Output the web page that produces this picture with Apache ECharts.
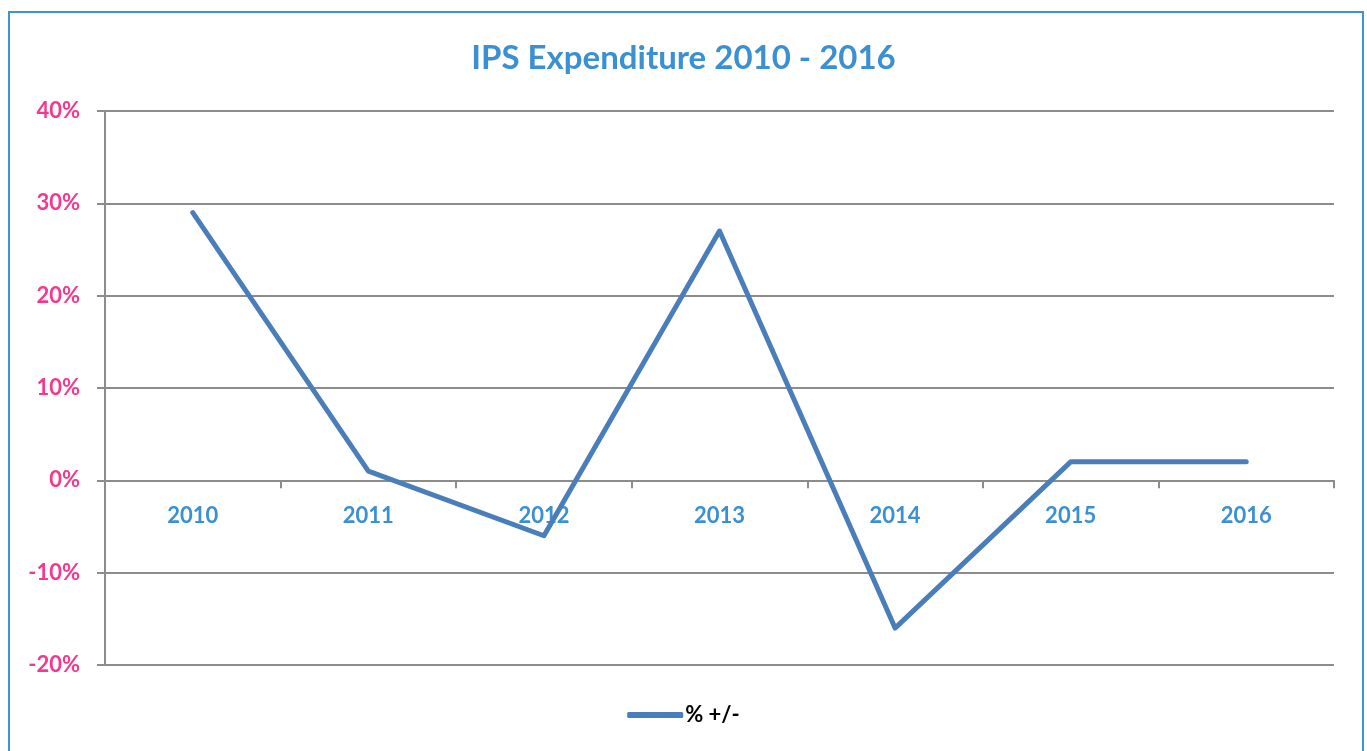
<!DOCTYPE html>
<html>
<head>
<meta charset="utf-8">
<script src="https://cdn.jsdelivr.net/npm/echarts@6/dist/echarts.min.js"></script>
<style>
  html, body { margin: 0; padding: 0; background: #fff; }
  #chart { width: 1367px; height: 751px; }
</style>
</head>
<body>
<div id="chart"></div>
<script>
// data
const years = ['2010', '2011', '2012', '2013', '2014', '2015', '2016']
const changePct = [29, 1, -6, 27, -16, 2, 2]
const seriesName = '% +/-'

// axis range
const yMin = -20
const yMax = 40
const yStep = 10

const gridTop = 111
const gridBottom = 86
const chartHeight = 751
// move the category axis up to the zero line (v6 keeps labels at the grid edge otherwise)
const plotHeight = chartHeight - gridTop - gridBottom
const zeroOffset = -plotHeight * (0 - yMin) / (yMax - yMin)

const chart = echarts.init(document.getElementById('chart'))

const option = {
  animation: false,
  backgroundColor: '#fff',
  textStyle: { fontFamily: 'Lato, sans-serif' },
  title: {
    text: 'IPS Expenditure 2010 - 2016',
    left: 'center',
    top: 37,
    textStyle: { color: '#3a90d3', fontSize: 33, fontWeight: 'bold', fontFamily: 'Lato, sans-serif' }
  },
  graphic: [
    {
      type: 'rect',
      shape: { x: 9, y: 12, width: 1354, height: 800 },
      style: { fill: 'none', stroke: '#3d93d6', lineWidth: 2 },
      silent: true
    }
  ],
  legend: {
    bottom: 20,
    left: 'center',
    icon: 'roundRect',
    itemWidth: 56,
    itemHeight: 6,
    itemGap: 10,
    data: [seriesName],
    itemStyle: { color: '#4a7ebb' },
    textStyle: { color: '#000', fontSize: 22, fontWeight: 'bold', fontFamily: 'Lato, sans-serif', padding: [0, 0, 0, -3] }
  },
  grid: {
    left: 105,
    right: 33,
    top: gridTop,
    bottom: gridBottom
  },
  xAxis: {
    type: 'category',
    data: years,
    boundaryGap: true,
    offset: zeroOffset,
    axisLine: { onZero: false, lineStyle: { color: '#8c8c8c', width: 2 } },
    axisTick: { show: true, length: 8, lineStyle: { color: '#8c8c8c', width: 2 } },
    axisLabel: { color: '#3a90d3', fontSize: 22, fontWeight: 'bold', margin: 25 }
  },
  yAxis: {
    type: 'value',
    min: yMin,
    max: yMax,
    interval: yStep,
    axisLine: { show: true, lineStyle: { color: '#8c8c8c', width: 2 } },
    axisTick: { show: true, length: 8, lineStyle: { color: '#8c8c8c', width: 2 } },
    axisLabel: { color: '#f5388d', fontSize: 22, fontWeight: 'bold', margin: 25, formatter: '{value}%' },
    splitLine: { lineStyle: { color: '#8c8c8c', width: 2 } }
  },
  series: [
    {
      name: seriesName,
      type: 'line',
      data: changePct,
      symbol: 'none',
      lineStyle: { color: '#4a7ebb', width: 5, cap: 'round', join: 'round' },
      itemStyle: { color: '#4a7ebb' }
    }
  ]
}

chart.setOption(option)
</script>
</body>
</html>
